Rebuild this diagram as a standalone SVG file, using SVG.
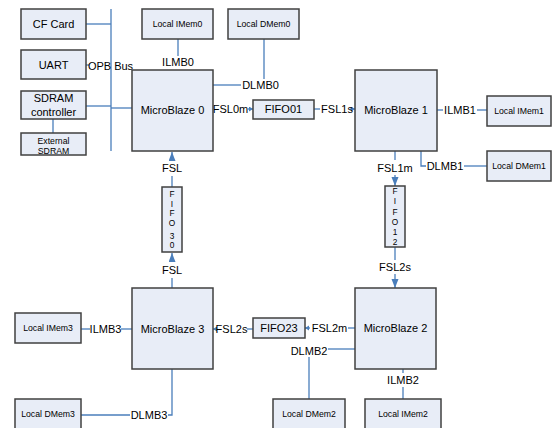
<svg xmlns="http://www.w3.org/2000/svg" width="553" height="428" viewBox="0 0 553 428">
<defs>
<style>
.box{fill:#e8edf7;stroke:#404040;stroke-width:1.5}
.ln{fill:none;stroke:#4a7ebb;stroke-width:1.3}
text{font-family:"Liberation Sans",Arial,sans-serif;fill:#000;text-anchor:middle}
.t{font-size:11px}
.s{font-size:8.7px}
.f{font-size:8.3px}
</style>
<marker id="ab" markerUnits="userSpaceOnUse" markerWidth="10" markerHeight="10" refX="9" refY="3.5" orient="auto"><path d="M0,0 L9,3.5 L0,7 Z" fill="#4a7ebb"/></marker>
<marker id="as" markerUnits="userSpaceOnUse" markerWidth="6" markerHeight="6" refX="4" refY="2.5" orient="auto"><path d="M0,0 L4,2.5 L0,5 Z" fill="#4a7ebb"/></marker>
</defs>
<rect width="553" height="428" fill="#fff"/>
<g id="connectors">
<path class="ln" d="M86,24 H111"/>
<path class="ln" d="M86,65 H89"/>
<path class="ln" d="M86,106 H111"/>
<path class="ln" d="M111,9 V151"/>
<path class="ln" d="M111,108 H132"/>
<path class="ln" d="M53,119 V133"/>
<path class="ln" d="M178,39 V56"/>
<path class="ln" d="M213,85 H241"/>
<path class="ln" d="M264,39 V79"/>
<path class="ln" d="M248,109 H253" marker-end="url(#as)"/>
<path class="ln" d="M314,109 H320"/>
<path class="ln" d="M350,109 H355" marker-end="url(#as)"/>
<path class="ln" d="M437,110 H443"/>
<path class="ln" d="M477,110 H487"/>
<path class="ln" d="M395,151 V160"/>
<path class="ln" d="M395,175 V186" marker-end="url(#ab)"/>
<path class="ln" d="M421,151 V166 H426"/>
<path class="ln" d="M464,166 H487"/>
<path class="ln" d="M395,247 V260"/>
<path class="ln" d="M395,274 V288" marker-end="url(#ab)"/>
<path class="ln" d="M355,328 H348"/>
<path class="ln" d="M310,328 H305" marker-end="url(#as)"/>
<path class="ln" d="M355,349 H328"/>
<path class="ln" d="M309,357 V399"/>
<path class="ln" d="M403,369 V373"/>
<path class="ln" d="M403,387 V399"/>
<path class="ln" d="M254,329 H247"/>
<path class="ln" d="M217,329 H213" marker-end="url(#as)"/>
<path class="ln" d="M81,329 H90"/>
<path class="ln" d="M121,329 H132"/>
<path class="ln" d="M81,415 H130"/>
<path class="ln" d="M168,415 H172 V369"/>
<path class="ln" d="M172,288 V278"/>
<path class="ln" d="M172,262 V253" marker-end="url(#ab)"/>
<path class="ln" d="M172,187 V176"/>
<path class="ln" d="M172,161 V152" marker-end="url(#ab)"/>
<text class="t" x="110.5" y="70">OPB Bus</text>
<text class="t" x="178" y="66">ILMB0</text>
<text class="t" x="260.5" y="89">DLMB0</text>
<text class="t" x="230.5" y="113">FSL0m</text>
<text class="t" x="337" y="113">FSL1s</text>
<text class="t" x="460" y="114">ILMB1</text>
<text class="t" x="395" y="171.5">FSL1m</text>
<text class="t" x="445" y="170">DLMB1</text>
<text class="t" x="172" y="172">FSL</text>
<text class="t" x="172" y="274">FSL</text>
<text class="t" x="395" y="271">FSL2s</text>
<text class="t" x="105.5" y="333">ILMB3</text>
<text class="t" x="231.5" y="333">FSL2s</text>
<text class="t" x="329.5" y="332">FSL2m</text>
<text class="t" x="309" y="355">DLMB2</text>
<text class="t" x="403" y="384">ILMB2</text>
<text class="t" x="149" y="419">DLMB3</text>
</g>
<g id="cfcard"><rect class="box" x="21" y="9" width="65" height="30"/><text class="t" x="53.5" y="28">CF Card</text></g>
<g id="uart"><rect class="box" x="21" y="50" width="65" height="29"/><text class="t" x="53.5" y="68.5">UART</text></g>
<g id="sdramctrl"><rect class="box" x="21" y="91" width="65" height="28"/><text class="t" x="53.5" y="102">SDRAM</text><text class="t" x="53.5" y="116">controller</text></g>
<g id="extsdram"><rect class="box" x="21" y="133" width="65" height="22"/><text class="s" x="53.5" y="144">External</text><text class="s" x="53.5" y="154">SDRAM</text></g>
<g id="mb0"><rect class="box" x="132" y="70" width="81" height="81"/><text class="t" x="172.5" y="114">MicroBlaze 0</text></g>
<g id="mb1"><rect class="box" x="355" y="70" width="82" height="81"/><text class="t" x="396" y="114">MicroBlaze 1</text></g>
<g id="mb2"><rect class="box" x="355" y="288" width="81" height="81"/><text class="t" x="395.5" y="332">MicroBlaze 2</text></g>
<g id="mb3"><rect class="box" x="132" y="288" width="81" height="81"/><text class="t" x="172.5" y="333">MicroBlaze 3</text></g>
<g id="imem0"><rect class="box" x="142" y="9" width="71" height="30"/><text class="s" x="177.5" y="27">Local IMem0</text></g>
<g id="dmem0"><rect class="box" x="228" y="9" width="71" height="30"/><text class="s" x="263.5" y="27">Local DMem0</text></g>
<g id="imem1"><rect class="box" x="487" y="96" width="64" height="30"/><text class="s" x="519" y="114">Local IMem1</text></g>
<g id="dmem1"><rect class="box" x="487" y="151" width="64" height="30"/><text class="s" x="519" y="169">Local DMem1</text></g>
<g id="imem2"><rect class="box" x="365" y="399" width="76" height="30"/><text class="s" x="403" y="417">Local IMem2</text></g>
<g id="dmem2"><rect class="box" x="273" y="399" width="72" height="30"/><text class="s" x="309" y="417">Local DMem2</text></g>
<g id="imem3"><rect class="box" x="15" y="313" width="66" height="30"/><text class="s" x="48" y="331">Local IMem3</text></g>
<g id="dmem3"><rect class="box" x="15" y="399" width="66" height="30"/><text class="s" x="48" y="417">Local DMem3</text></g>
<g id="fifo01"><rect class="box" x="253" y="100" width="61" height="19"/><text class="t" x="283.5" y="113">FIFO01</text></g>
<g id="fifo23"><rect class="box" x="253" y="318" width="52" height="20"/><text class="t" x="279" y="332">FIFO23</text></g>
<g id="fifo12"><rect class="box" x="385" y="186" width="20" height="61"/>
<text class="f" x="395" y="194">F</text><text class="f" x="395" y="204">I</text><text class="f" x="395" y="214.5">F</text><text class="f" x="395" y="225">O</text><text class="f" x="395" y="235">1</text><text class="f" x="395" y="245">2</text></g>
<g id="fifo30"><rect class="box" x="162" y="187" width="20" height="65"/>
<text class="f" x="172" y="197">F</text><text class="f" x="172" y="206.5">I</text><text class="f" x="172" y="216">F</text><text class="f" x="172" y="226">O</text><text class="f" x="172" y="238.5">3</text><text class="f" x="172" y="248">0</text></g>
</svg>
